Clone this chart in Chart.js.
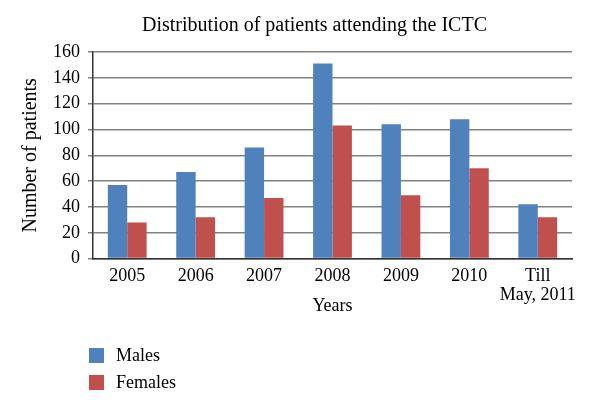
<!DOCTYPE html>
<html>
<head>
<meta charset="utf-8">
<script src="https://cdn.jsdelivr.net/npm/chart.js@4.4.1/dist/chart.umd.min.js"></script>
<style>
  body { margin: 0; background: #fff; }
  #wrap { position: relative; width: 600px; height: 411px; }
  #legend { position: absolute; left: 89px; top: 342px; font-family: "Liberation Serif", serif; font-size: 18px; color: #000; }
  #legend div { display: flex; align-items: center; height: 27px; }
  #legend span.box { display: inline-block; width: 15px; height: 15px; margin-right: 12px; }
</style>
</head>
<body>
<div id="wrap">
  <canvas id="chart" width="600" height="411"></canvas>
  <div id="legend"></div>
</div>
<script>
const years = ['2005', '2006', '2007', '2008', '2009', '2010', ['Till', 'May, 2011']];
const males = [57, 67, 86, 151, 104, 108, 42];
const females = [28, 32, 47, 103, 49, 70, 32];
const yTicks = [0, 20, 40, 60, 80, 100, 120, 140, 160];

const serif = '"Liberation Serif", "Times New Roman", serif';

// the title in the original sits a little right of the canvas centre
const titleShift = {
    id: 'titleShift',
    afterLayout(chart) {
        if (chart.titleBlock) {
            chart.titleBlock.left += 21;
            chart.titleBlock.right += 21;
        }
    }
};

const chart = new Chart(document.getElementById('chart').getContext('2d'), {
    type: 'bar',
    data: {
        labels: years,
        datasets: [
            { label: 'Males', data: males, backgroundColor: '#4F81BD' },
            { label: 'Females', data: females, backgroundColor: '#C0504D' }
        ]
    },
    options: {
        responsive: false,
        animation: false,
        layout: { padding: { left: 15, right: 28, top: 14, bottom: 90 } },
        datasets: { bar: { barPercentage: 1, categoryPercentage: 0.567 } },
        plugins: {
            legend: { display: false },
            tooltip: { enabled: false },
            title: {
                display: true,
                text: 'Distribution of patients attending the ICTC',
                color: '#000',
                font: { family: serif, size: 20, weight: 'normal' },
                padding: { top: 0, bottom: 14 }
            }
        },
        scales: {
            x: {
                grid: { display: false },
                border: { display: true, color: '#333', width: 1.5 },
                ticks: { color: '#000', font: { family: serif, size: 18, lineHeight: 1.05 }, padding: 0, maxRotation: 0, autoSkip: false },
                title: {
                    display: true, text: 'Years', color: '#000',
                    font: { family: serif, size: 18 }, padding: { top: -9 }
                }
            },
            y: {
                min: 0, max: 160,
                afterBuildTicks: axis => { axis.ticks = yTicks.map(v => ({ value: v })); },
                grid: { color: '#828282', lineWidth: 1.5, tickLength: 5 },
                border: { display: true, color: '#333', width: 1.5 },
                ticks: { color: '#000', font: { family: serif, size: 18 }, padding: 8 },
                title: {
                    display: true, text: 'Number of patients', color: '#000',
                    font: { family: serif, size: 20 }, padding: { bottom: 2 }
                }
            }
        }
    },
    plugins: [titleShift]
});

// vertical legend, as in the original
const legendEl = document.getElementById('legend');
chart.data.datasets.forEach(ds => {
    const row = document.createElement('div');
    row.innerHTML = '<span class="box" style="background:' + ds.backgroundColor + '"></span>' + ds.label;
    legendEl.appendChild(row);
});
</script>
</body>
</html>
